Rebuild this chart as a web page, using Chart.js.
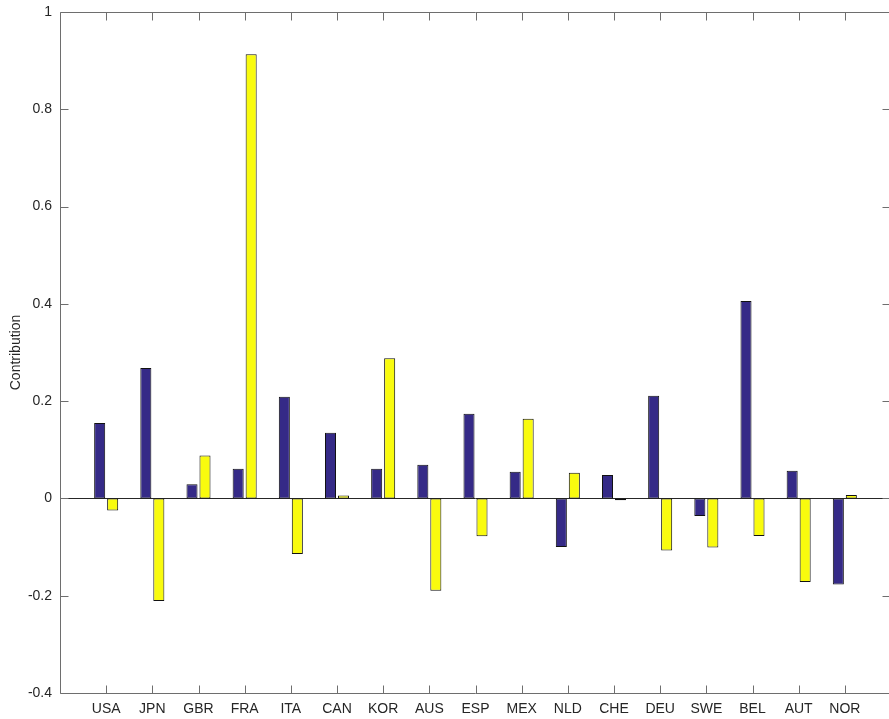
<!DOCTYPE html>
<html>
<head>
<meta charset="utf-8">
<script src="https://cdn.jsdelivr.net/npm/chart.js@4.4.1/dist/chart.umd.min.js"></script>
<style>
  html, body { margin: 0; padding: 0; background: #fff; overflow: hidden; }
  #wrap { width: 891px; height: 719px; }
</style>
</head>
<body>
<div id="wrap"><canvas id="c" width="891" height="719"></canvas></div>
<script>
// Country codes along the x axis
const categories = ['USA','JPN','GBR','FRA','ITA','CAN','KOR','AUS','ESP','MEX','NLD','CHE','DEU','SWE','BEL','AUT','NOR'];
// First series (dark blue)
const seriesA = [0.155, 0.268, 0.029, 0.061, 0.209, 0.135, 0.061, 0.069, 0.174, 0.055, -0.100, 0.048, 0.211, -0.036, 0.406, 0.057, -0.177];
// Second series (yellow)
const seriesB = [-0.025, -0.211, 0.088, 0.913, -0.114, 0.006, 0.288, -0.190, -0.078, 0.164, 0.053, -0.004, -0.107, -0.101, -0.077, -0.172, 0.007];
// Y axis tick values
const yTicks = [-0.4, -0.2, 0, 0.2, 0.4, 0.6, 0.8, 1];

const FONT = "'Liberation Sans', Arial, Helvetica, sans-serif";
const AXIS_COLOR = '#6e6e6e';
const TEXT_COLOR = '#262626';

// Box around the axes, inward tick marks on all four sides, and the zero baseline
const axesBox = {
  id: 'axesBox',
  beforeDatasetsDraw(chart) {
    const { ctx, chartArea: a, scales: { y } } = chart;
    const y0 = Math.round(y.getPixelForValue(0)) + 0.5;
    ctx.save();
    ctx.strokeStyle = '#262626';
    ctx.lineWidth = 1;
    ctx.beginPath();
    ctx.moveTo(a.left, y0);
    ctx.lineTo(a.right, y0);
    ctx.stroke();
    ctx.restore();
  },
  afterDatasetsDraw(chart) {
    const { ctx, chartArea: a, scales: { x, y } } = chart;
    const L = Math.round(a.left) + 0.5, R = Math.round(a.right) - 0.5;
    const T = Math.round(a.top) + 0.5, B = Math.round(a.bottom) + 0.5;
    const tick = 8;
    ctx.save();
    ctx.strokeStyle = AXIS_COLOR;
    ctx.lineWidth = 1;
    ctx.beginPath();
    ctx.rect(L, T, R - L, B - T);
    categories.forEach((c, i) => {
      const px = Math.round(x.getPixelForValue(i + 1)) + 0.5;
      ctx.moveTo(px, B); ctx.lineTo(px, B - tick);
      ctx.moveTo(px, T); ctx.lineTo(px, T + tick);
    });
    yTicks.forEach(v => {
      const py = Math.round(y.getPixelForValue(v)) + 0.5;
      ctx.moveTo(L, py); ctx.lineTo(L + tick, py);
      ctx.moveTo(R, py); ctx.lineTo(R - tick, py);
    });
    ctx.stroke();
    ctx.restore();
  }
};

new Chart(document.getElementById('c'), {
  type: 'bar',
  data: {
    datasets: [
      {
        label: 'A',
        data: seriesA.map((v, i) => ({ x: i + 1, y: v })),
        backgroundColor: '#352A87',
        borderColor: '#111111',
        borderWidth: 1,
        borderSkipped: false
      },
      {
        label: 'B',
        data: seriesB.map((v, i) => ({ x: i + 1, y: v })),
        backgroundColor: '#F9FB0E',
        borderColor: '#111111',
        borderWidth: 1,
        borderSkipped: false
      }
    ]
  },
  options: {
    responsive: false,
    devicePixelRatio: 1,
    animation: false,
    events: [],
    categoryPercentage: 0.563,
    barPercentage: 0.85,
    layout: { padding: { top: 12, right: 0, bottom: 0, left: 0 } },
    plugins: { legend: { display: false }, tooltip: { enabled: false } },
    scales: {
      x: {
        type: 'linear',
        offset: false,
        min: 0,
        max: 18,
        grid: { display: false, drawTicks: false },
        border: { display: false },
        afterBuildTicks(scale) {
          scale.ticks = categories.map((c, i) => ({ value: i + 1 }));
        },
        afterFit(scale) {
          scale.height = 26;
          scale.paddingLeft = 0;
          scale.paddingRight = 0;
        },
        ticks: {
          autoSkip: false,
          maxRotation: 0,
          padding: 8,
          color: TEXT_COLOR,
          font: { family: FONT, size: 14 },
          callback: v => categories[v - 1]
        }
      },
      y: {
        min: -0.4,
        max: 1,
        grid: { display: false, drawTicks: false },
        border: { display: false },
        afterBuildTicks(scale) {
          scale.ticks = yTicks.map(v => ({ value: v }));
        },
        afterFit(scale) {
          scale.width = 60;
          scale.paddingTop = 0;
          scale.paddingBottom = 0;
        },
        ticks: {
          padding: 8,
          color: TEXT_COLOR,
          font: { family: FONT, size: 14 },
          callback: v => String(Math.round(v * 10) / 10)
        },
        title: {
          display: true,
          text: 'Contribution',
          color: TEXT_COLOR,
          font: { family: FONT, size: 14 },
          padding: { top: 8, bottom: 0 }
        }
      }
    }
  },
  plugins: [axesBox]
});
</script>
</body>
</html>
